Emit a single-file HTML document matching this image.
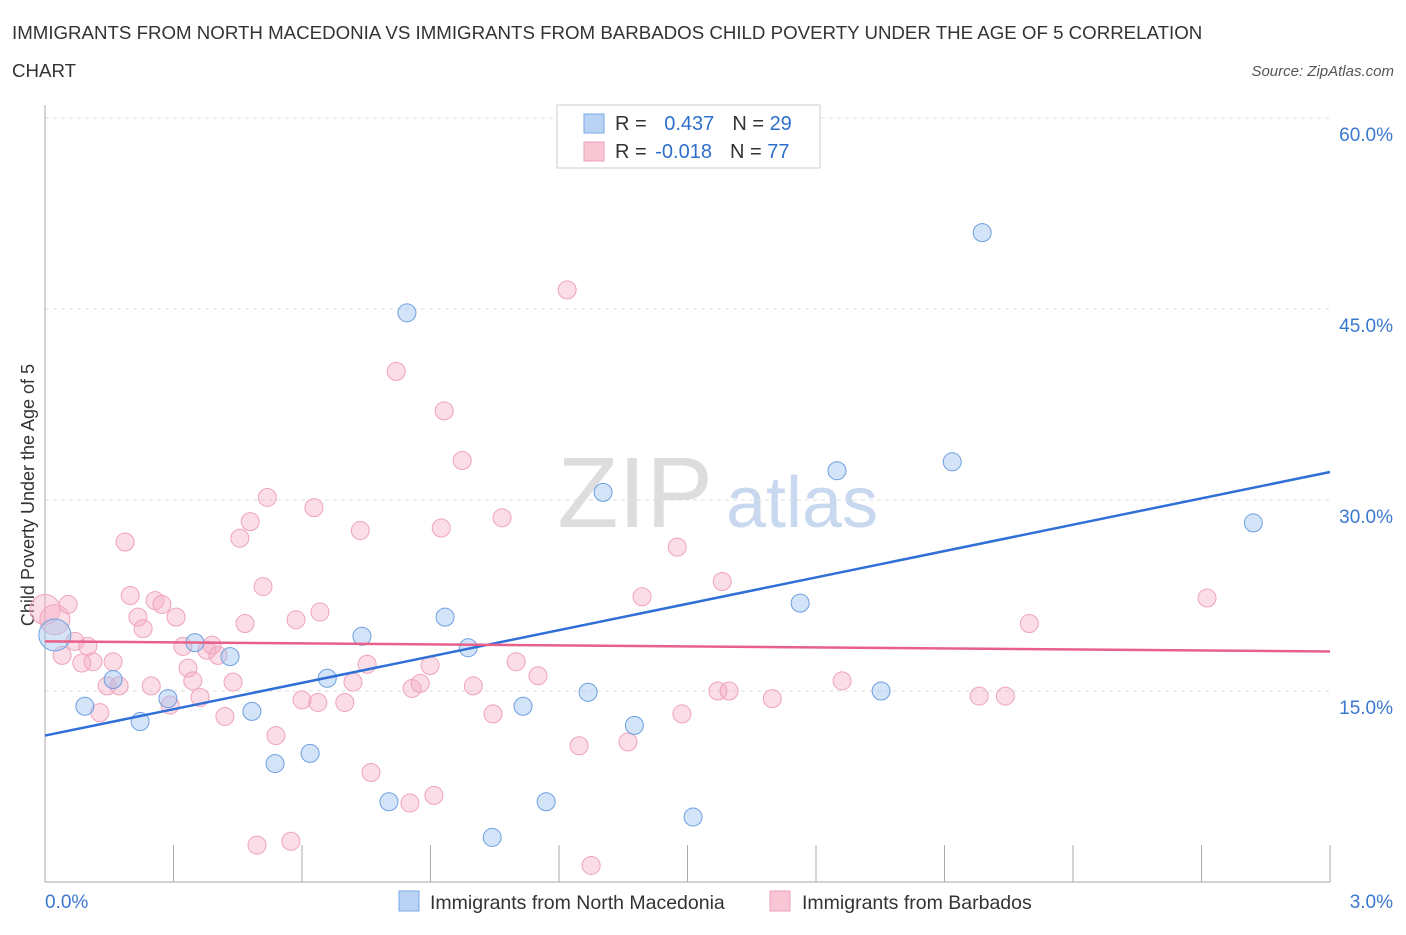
<!DOCTYPE html>
<html><head><meta charset="utf-8"><style>
body{margin:0;background:#fff;font-family:"Liberation Sans",sans-serif;}
svg text{font-family:"Liberation Sans",sans-serif;}
</style></head><body>
<svg id="chart" width="1406" height="930" xmlns="http://www.w3.org/2000/svg">
<text x="12" y="39" font-size="18.7" fill="#333">IMMIGRANTS FROM NORTH MACEDONIA VS IMMIGRANTS FROM BARBADOS CHILD POVERTY UNDER THE AGE OF 5 CORRELATION</text>
<text x="12" y="77" font-size="18.7" fill="#333">CHART</text>
<text x="1394" y="76" font-size="15" fill="#555" text-anchor="end" font-style="italic">Source: ZipAtlas.com</text>
<text x="635" y="527" font-size="100" fill="#ddd" text-anchor="middle" font-family="Liberation Serif">ZIP</text>
<text x="802" y="527" font-size="72" fill="#c8d8ef" text-anchor="middle">atlas</text>
<text transform="translate(34,495) rotate(-90)" font-size="18" fill="#333" text-anchor="middle">Child Poverty Under the Age of 5</text>
<g id="grid"></g><g id="marks"></g>
<g>
<rect x="557" y="105" width="263" height="63" fill="#fff" stroke="#ccc"/>
<rect x="584" y="114" width="20" height="19" fill="#b9d3f5" stroke="#7aa8e6"/>
<rect x="584" y="142" width="20" height="19" fill="#f8c6d5" stroke="#eea0b8"/>
<text x="615" y="130" font-size="20" fill="#333">R = <tspan fill="#2f6fcc" dx="12">0.437</tspan><tspan dx="18" fill="#333">N = </tspan><tspan fill="#2f6fcc">29</tspan></text>
<text x="615" y="158" font-size="20" fill="#333">R = <tspan fill="#2f6fcc" dx="3">-0.018</tspan><tspan dx="18" fill="#333">N = </tspan><tspan fill="#2f6fcc">77</tspan></text>
</g>
<g>
<rect x="399" y="891" width="20" height="20" fill="#b9d3f5" stroke="#7aa8e6"/>
<text x="430" y="909" font-size="19.5" fill="#333">Immigrants from North Macedonia</text>
<rect x="770" y="891" width="20" height="20" fill="#f8c6d5" stroke="#eea0b8"/>
<text x="802" y="909" font-size="19.5" fill="#333">Immigrants from Barbados</text>
</g>
</svg>
<script>
const blueX=[0.023,0.093,0.159,0.222,0.287,0.350,0.432,0.483,0.537,0.619,0.659,0.740,0.803,0.845,0.934,0.988,1.044,1.116,1.170,1.268,1.303,1.376,1.513,1.763,1.849,1.952,2.118,2.188,2.821];
const blueY=[19.4,13.8,15.9,12.6,14.4,18.8,17.7,13.4,9.3,10.1,16.0,19.3,6.3,44.7,20.8,18.4,3.5,13.8,6.3,14.9,30.6,12.3,5.1,21.9,32.3,15.0,33.0,51.0,28.2];
const pinkX=[0.000,0.023,0.054,0.070,0.040,0.086,0.100,0.112,0.128,0.145,0.159,0.173,0.187,0.199,0.217,0.229,0.248,0.257,0.273,0.292,0.306,0.322,0.334,0.345,0.362,0.378,0.390,0.404,0.420,0.439,0.467,0.479,0.509,0.519,0.455,0.539,0.495,0.574,0.586,0.600,0.628,0.642,0.637,0.700,0.719,0.736,0.752,0.761,0.820,0.857,0.876,0.852,0.899,0.908,0.925,0.932,0.974,1.000,1.046,1.067,1.100,1.151,1.219,1.247,1.275,1.361,1.394,1.476,1.487,1.571,1.581,1.597,1.698,1.861,2.181,2.242,2.298,2.713];
const pinkY=[21.4,20.6,21.8,18.9,17.8,17.2,18.5,17.3,13.3,15.4,17.3,15.4,26.7,22.5,20.8,19.9,15.4,22.1,21.8,13.9,20.8,18.5,16.8,15.8,14.5,18.2,18.6,17.8,13.0,15.7,20.3,28.3,23.2,30.2,27.0,11.5,2.9,3.2,20.6,14.3,29.4,21.2,14.1,14.1,15.7,27.6,17.1,8.6,40.1,15.2,15.6,6.2,17.0,6.8,27.8,37.0,33.1,15.4,13.2,28.6,17.3,16.2,46.5,10.7,1.3,11.0,22.4,26.3,13.2,15.0,23.6,15.0,14.4,15.8,14.6,14.6,20.3,22.3];
const blueTrend=[11.5,32.2];
const pinkTrend=[18.9,18.1];
const yTicks=[15,30,45,60];
const yTickLabels=["15.0%","30.0%","45.0%","60.0%"];
const xs=v=>45+v/3*1285, ys=v=>882-v/15*191;
const NS="http://www.w3.org/2000/svg";
const grid=document.getElementById('grid'), marks=document.getElementById('marks');
function mk(tag,attrs,parent){const e=document.createElementNS(NS,tag);for(const k in attrs)e.setAttribute(k,attrs[k]);parent.appendChild(e);return e;}
yTicks.forEach((t,i)=>{
 const l=mk('line',{x1:45,x2:1330,y1:ys(t),y2:ys(t),stroke:'#ddd','stroke-dasharray':'4,4'},grid);
 
 
 const tx=mk('text',{x:1393,y:ys(t)+23,'font-size':19,fill:'#3a78d0','text-anchor':'end'},grid);
 tx.textContent=yTickLabels[i];
 
 
});
const ax=mk('line',{x1:45,x2:45,y1:105,y2:882,stroke:'#aaa'},grid);


const bx=mk('line',{x1:45,x2:1330,y1:882,y2:882,stroke:'#aaa'},grid);


for(let i=0;i<=10;i++){const t=mk('line',{x1:xs(i*0.3),x2:xs(i*0.3),y1:845,y2:882,stroke:'#aaa'},grid);
 
 }
const xl0=mk('text',{x:45,y:908,'font-size':19,fill:'#3a78d0'},grid);xl0.textContent='0.0%';


const xl1=mk('text',{x:1393,y:908,'font-size':19,fill:'#3a78d0','text-anchor':'end'},grid);xl1.textContent='3.0%';


pinkX.forEach((x,i)=>{const c=mk('circle',{cx:xs(x),cy:ys(pinkY[i]),r:(i<2?15:9),fill:'rgba(245,170,195,0.4)',stroke:'#efa3bb','stroke-width':1},marks);
 
 });
blueX.forEach((x,i)=>{const c=mk('circle',{cx:xs(x),cy:ys(blueY[i]),r:(i<1?16:9),fill:'rgba(160,196,240,0.45)',stroke:'#6d9fe0','stroke-width':1},marks);
 
 });
const bl=mk('line',{x1:xs(0),y1:ys(blueTrend[0]),x2:xs(3),y2:ys(blueTrend[1]),stroke:'#2f6fd6','stroke-width':2.5},marks);


const pl=mk('line',{x1:xs(0),y1:ys(pinkTrend[0]),x2:xs(3),y2:ys(pinkTrend[1]),stroke:'#e8608a','stroke-width':2.5},marks);


</script>
</body></html>
